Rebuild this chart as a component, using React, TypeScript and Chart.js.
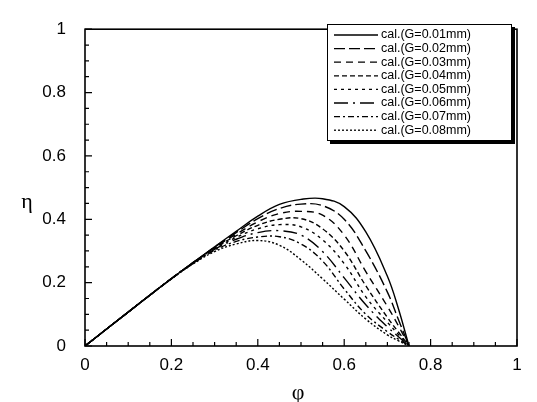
import { useEffect, useRef } from 'react';
import { Chart, registerables } from 'chart.js';

Chart.register(...registerables);

// ---- data ----
const phi = [0, 0.1, 0.2, 0.25, 0.3, 0.35, 0.4, 0.45, 0.5, 0.55, 0.6, 0.65, 0.7, 0.725, 0.75];
const etaG001 = [0, 0.107, 0.213, 0.263, 0.313, 0.362, 0.41, 0.447, 0.463, 0.465, 0.44, 0.36, 0.22, 0.12, 0];
const etaG002 = [0, 0.107, 0.213, 0.263, 0.312, 0.358, 0.402, 0.434, 0.448, 0.443, 0.40, 0.30, 0.17, 0.085, 0];
const etaG003 = [0, 0.107, 0.213, 0.263, 0.311, 0.353, 0.392, 0.418, 0.425, 0.413, 0.35, 0.235, 0.125, 0.065, 0];
const etaG004 = [0, 0.107, 0.213, 0.262, 0.309, 0.348, 0.381, 0.400, 0.402, 0.37, 0.30, 0.19, 0.09, 0.045, 0];
const etaG005 = [0, 0.107, 0.213, 0.262, 0.307, 0.343, 0.370, 0.383, 0.376, 0.335, 0.26, 0.155, 0.075, 0.037, 0];
const etaG006 = [0, 0.107, 0.212, 0.261, 0.305, 0.337, 0.358, 0.364, 0.350, 0.298, 0.215, 0.13, 0.06, 0.03, 0];
const etaG007 = [0, 0.107, 0.212, 0.260, 0.302, 0.330, 0.344, 0.345, 0.322, 0.268, 0.18, 0.10, 0.045, 0.022, 0];
const etaG008 = [0, 0.107, 0.212, 0.259, 0.298, 0.322, 0.333, 0.318, 0.272, 0.212, 0.148, 0.085, 0.035, 0.017, 0];

const seriesLabels = [
  'cal.(G=0.01mm)', 'cal.(G=0.02mm)', 'cal.(G=0.03mm)', 'cal.(G=0.04mm)',
  'cal.(G=0.05mm)', 'cal.(G=0.06mm)', 'cal.(G=0.07mm)', 'cal.(G=0.08mm)',
];
const seriesEta = [etaG001, etaG002, etaG003, etaG004, etaG005, etaG006, etaG007, etaG008];
const seriesDash: number[][] = [
  [], [11, 4], [7, 5], [5, 3], [3, 4], [14, 5, 2, 5], [6, 3, 2, 3], [2, 2],
];

const xTickLabels = ['0', '0.2', '0.4', '0.6', '0.8', '1'];
const yTickLabels = ['0', '0.2', '0.4', '0.6', '0.8', '1'];
const minorTickValues = Array.from({ length: 21 }, (_, i) => i / 20);
const xTitle = 'φ';
const yTitle = 'η';

const framePlugin = {
  id: 'frameAndLegend',
  afterDraw(chart: any) {
    const { ctx, chartArea: a, scales } = chart;
    const xs = scales.x;
    const ys = scales.y;
    ctx.save();
    // frame
    ctx.strokeStyle = '#000';
    ctx.lineWidth = 1.6;
    ctx.setLineDash([]);
    ctx.strokeRect(a.left, a.top, a.right - a.left, a.bottom - a.top);
    // inward ticks
    ctx.lineWidth = 1.2;
    ctx.beginPath();
    minorTickValues.forEach((v, i) => {
      const len = i % 4 === 0 ? 7 : 4;
      const px = xs.getPixelForValue(v);
      ctx.moveTo(px, a.bottom);
      ctx.lineTo(px, a.bottom - len);
      const py = ys.getPixelForValue(v);
      ctx.moveTo(a.left, py);
      ctx.lineTo(a.left + len, py);
    });
    ctx.stroke();

    // axis titles
    ctx.fillStyle = '#000';
    ctx.font = '22px "Liberation Serif"';
    ctx.textAlign = 'center';
    ctx.textBaseline = 'middle';
    ctx.fillText(xTitle, (a.left + a.right) / 2 - 3, 393);
    ctx.fillText(yTitle, 27, 202);

    // legend box
    const bx = 327, by = 24, bw = 185, bh = 117;
    ctx.fillStyle = '#000';
    ctx.fillRect(bx + 3, by + 3, bw, bh);
    ctx.fillStyle = '#fff';
    ctx.fillRect(bx, by, bw, bh);
    ctx.lineWidth = 1;
    ctx.strokeStyle = '#000';
    ctx.strokeRect(bx + 0.5, by + 0.5, bw - 1, bh - 1);

    ctx.font = '12.5px "Liberation Sans"';
    ctx.textAlign = 'left';
    ctx.textBaseline = 'middle';
    chart.data.datasets.forEach((ds: any, i: number) => {
      const ry = 35 + i * 13.6;
      ctx.beginPath();
      ctx.lineWidth = 1.3;
      ctx.setLineDash(ds.borderDash || []);
      ctx.moveTo(334, ry);
      ctx.lineTo(378, ry);
      ctx.stroke();
      ctx.setLineDash([]);
      ctx.fillStyle = '#000';
      ctx.fillText(ds.label, 381, ry);
    });
    ctx.restore();
  },
};

export default function App() {
  const ref = useRef<HTMLCanvasElement | null>(null);
  useEffect(() => {
    if (!ref.current) return;
    const datasets = seriesLabels.map((label, i) => ({
      label,
      data: phi.map((p, j) => ({ x: p, y: seriesEta[i][j] })),
      borderColor: '#000',
      backgroundColor: '#000',
      borderWidth: 1.4,
      borderDash: seriesDash[i],
      pointRadius: 0,
      tension: 0.4,
      fill: false,
    }));
    const chart = new Chart(ref.current, {
      type: 'line',
      data: { datasets },
      options: {
        animation: false,
        responsive: false,
        devicePixelRatio: 1,
        layout: { padding: { top: 18, right: 20, left: 0, bottom: 0 } },
        plugins: { legend: { display: false }, tooltip: { enabled: false } },
        scales: {
          x: {
            type: 'linear',
            min: 0,
            max: 1,
            ticks: {
              stepSize: 0.2,
              color: '#000',
              font: { family: '"Liberation Sans"', size: 17 },
              padding: 9,
              callback: (_v: any, idx: number) => xTickLabels[idx],
            },
            grid: { display: false, drawTicks: false },
            border: { display: false },
            afterFit: (s: any) => { s.height = 56; },
          },
          y: {
            type: 'linear',
            min: 0,
            max: 1,
            ticks: {
              stepSize: 0.2,
              color: '#000',
              font: { family: '"Liberation Sans"', size: 17 },
              padding: 19,
              callback: (_v: any, idx: number) => yTickLabels[idx],
            },
            grid: { display: false, drawTicks: false },
            border: { display: false },
            afterFit: (s: any) => { s.width = 85; },
          },
        },
      },
      plugins: [framePlugin],
    });
    return () => chart.destroy();
  }, []);
  return (
    <div style={{ position: 'fixed', left: 0, top: 0, width: 537, height: 402, background: '#fff' }}>
      <canvas ref={ref} width={537} height={402} />
    </div>
  );
}
